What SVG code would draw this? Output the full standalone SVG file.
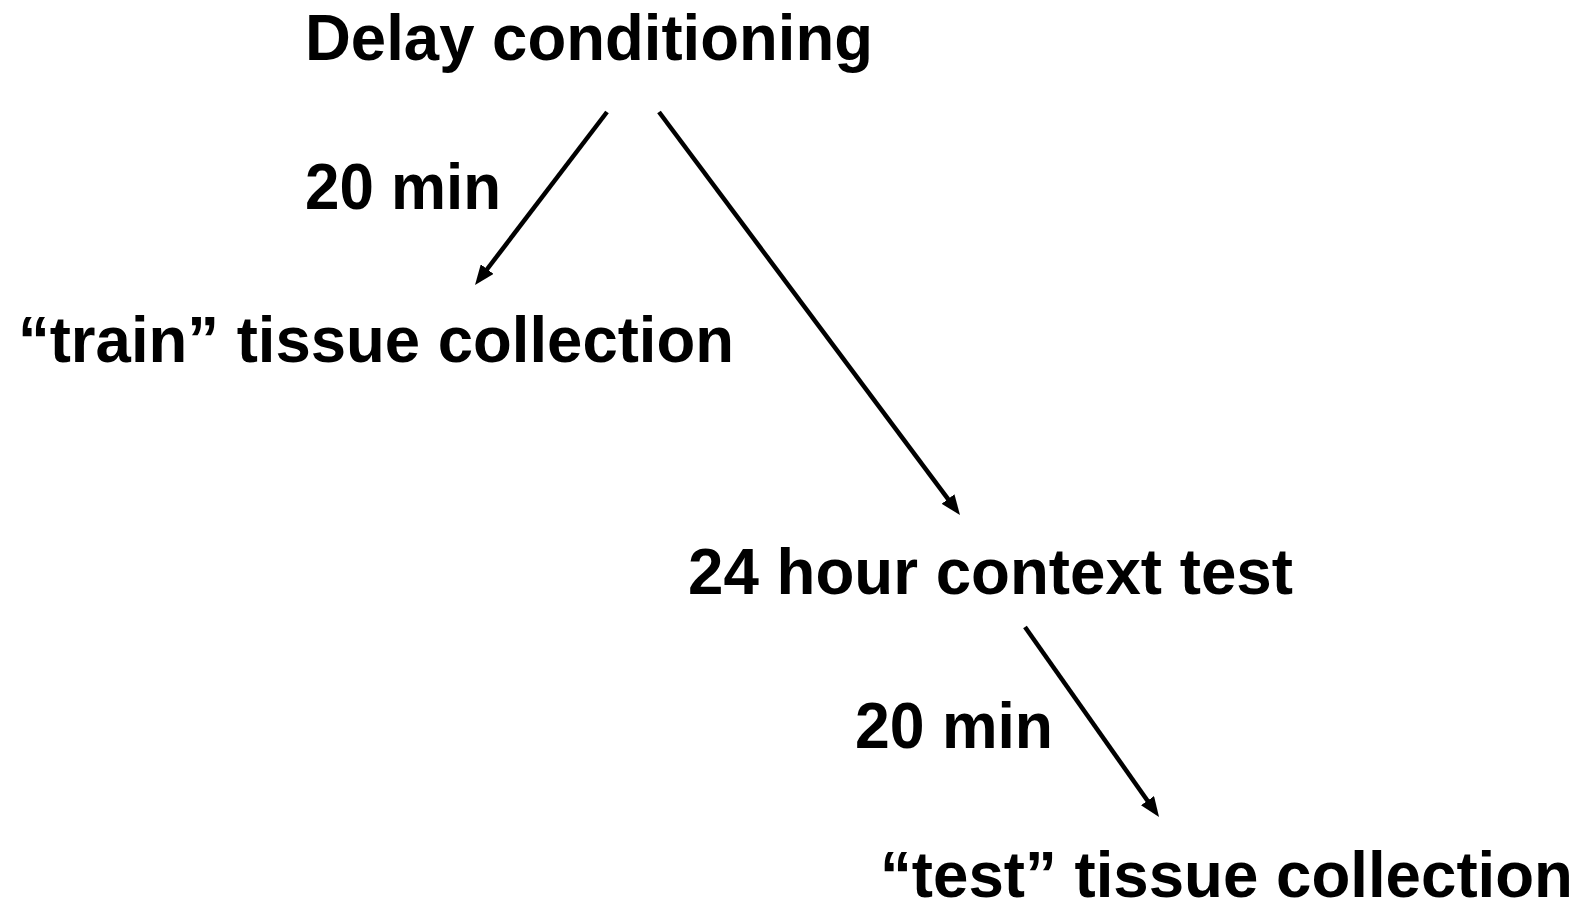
<svg xmlns="http://www.w3.org/2000/svg" width="1581" height="907" viewBox="0 0 1581 907">
  <style>
    .label { font-family: "Liberation Sans", Arial, sans-serif; font-weight: bold; font-size: 65px; fill: #000; }
    .edge { stroke: #000; stroke-width: 4.5; fill: none; marker-end: url(#arrow); }
  </style>
  <defs>
    <!-- filled triangular head; the line stops short so the tip stays sharp -->
    <marker id="arrow" viewBox="0 0 20 16" refX="8" refY="8" markerWidth="20" markerHeight="16" markerUnits="userSpaceOnUse" orient="auto">
      <path d="M0,0 L20,8 L0,16 Z" fill="#000"/>
    </marker>
  </defs>
  <rect width="1581" height="907" fill="#fff"/>

  <g id="connectors">
    <line class="edge" x1="607" y1="112" x2="482.3" y2="275.5"/>
    <line class="edge" x1="659" y1="112" x2="952.8" y2="505.4"/>
    <line class="edge" x1="1025" y1="627" x2="1152.1" y2="807.2"/>
  </g>

  <g id="delay-conditioning">
    <text class="label" x="305" y="60" textLength="568" lengthAdjust="spacingAndGlyphs">Delay conditioning</text>
  </g>
  <g id="label-20min-train">
    <text class="label" x="305" y="209" textLength="196" lengthAdjust="spacingAndGlyphs">20 min</text>
  </g>
  <g id="train-collection">
    <text class="label" x="18" y="362" textLength="716" lengthAdjust="spacingAndGlyphs">“train” tissue collection</text>
  </g>
  <g id="context-test">
    <text class="label" x="688" y="594" textLength="605" lengthAdjust="spacingAndGlyphs">24 hour context test</text>
  </g>
  <g id="label-20min-test">
    <text class="label" x="855" y="748" textLength="198" lengthAdjust="spacingAndGlyphs">20 min</text>
  </g>
  <g id="test-collection">
    <text class="label" x="880" y="897" textLength="693" lengthAdjust="spacingAndGlyphs">“test” tissue collection</text>
  </g>
</svg>
